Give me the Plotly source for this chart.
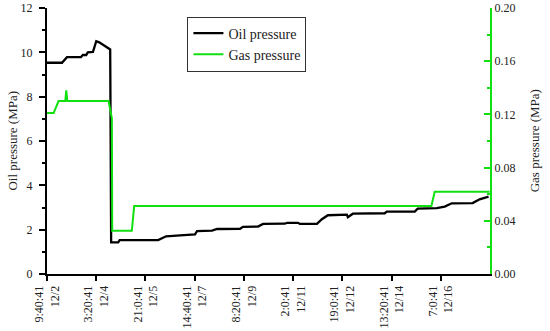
import plotly.graph_objects as go

# x in hours elapsed since 12/2 9:40:41 (tick interval = 41 h 40 min)
oil_hours = [0, 12.7, 16.9, 28.7, 30.3, 33.2, 34.5, 38.9, 41.7, 44.2, 53.5, 53.8, 54.3,
             60.3, 61.5, 94.1, 98.3, 100.8, 112.7, 121.1, 125.3, 127.0, 139.7, 144.0,
             163.4, 165.9, 178.6, 182.9, 201.4, 203.1, 212.4, 214.1, 228.5, 232.7,
             237.8, 253.8, 254.7, 258.9, 285.9, 287.6, 311.3, 313.8, 329.9, 336.7,
             342.6, 360.3, 366.2, 373.8]
oil_mpa = [9.53, 9.53, 9.78, 9.78, 9.88, 9.88, 10.0, 10.02, 10.5, 10.45, 10.13, 1.84, 1.43,
           1.43, 1.53, 1.53, 1.65, 1.70, 1.74, 1.79, 1.79, 1.93, 1.96, 2.03,
           2.04, 2.13, 2.14, 2.26, 2.27, 2.31, 2.31, 2.26, 2.26, 2.47,
           2.65, 2.68, 2.56, 2.72, 2.74, 2.81, 2.82, 2.95, 2.97, 3.04,
           3.19, 3.20, 3.37, 3.49]

gas_hours = [0, 5.6, 9.8, 15.5, 16.3, 17.2, 52.1, 54.9, 55.2, 71.8, 73.8, 325.4, 328.2, 374.7]
gas_mpa = [0.121, 0.121, 0.130, 0.130, 0.138, 0.130, 0.130, 0.117, 0.0325, 0.0325,
           0.0511, 0.0511, 0.0619, 0.0619]

tick_hours = [0, 41.667, 83.333, 125.0, 166.667, 208.333, 250.0, 291.667, 333.333]
tick_times = ["9:40:41", "3:20:41", "21:0:41", "14:40:41", "8:20:41", "2:0:41",
              "19:0:41", "13:20:41", "7:0:41"]
tick_dates = ["12/2", "12/4", "12/5", "12/7", "12/9", "12/11", "12/12", "12/14", "12/16"]

GREEN = "#10e010"
FONT = "Liberation Serif"

fig = go.Figure()
fig.add_trace(go.Scatter(x=oil_hours, y=oil_mpa, mode="lines", name="Oil pressure",
                         line=dict(color="black", width=2.3)))
fig.add_trace(go.Scatter(x=gas_hours, y=gas_mpa, mode="lines", name="Gas pressure",
                         yaxis="y2", line=dict(color=GREEN, width=2)))

fig.update_layout(
    width=550, height=331, autosize=False,
    margin=dict(l=47, r=60, t=8, b=57, autoexpand=False),
    paper_bgcolor="white", plot_bgcolor="white",
    font=dict(family=FONT, size=12, color="#222"),
    showlegend=True,
    legend=dict(x=0.317, y=0.968, xanchor="left", yanchor="top",
                bordercolor="#333", borderwidth=1, bgcolor="white",
                font=dict(family=FONT, size=14, color="#222"),
                tracegroupgap=0, itemwidth=30),
    xaxis=dict(range=[0, 375], tickvals=tick_hours, automargin=False,
               ticktext=[t + "<br>" + d for t, d in zip(tick_times, tick_dates)],
               tickangle=-90, showgrid=False, zeroline=False,
               showline=True, linecolor="black", linewidth=2,
               ticks="outside", ticklen=5, tickwidth=2, tickcolor="black",
               tickfont=dict(family=FONT, size=12, color="#222")),
    yaxis=dict(range=[0, 12], dtick=2, showgrid=False, zeroline=False, automargin=False,
               showline=True, linecolor="black", linewidth=2,
               ticks="outside", ticklen=6, tickwidth=1.5, tickcolor="black",
               ticklabelstandoff=4,
               minor=dict(dtick=1, ticks="outside", ticklen=3, tickcolor="black"),
               tickfont=dict(family=FONT, size=12, color="#222")),
    yaxis2=dict(range=[0, 0.2], dtick=0.04, tickformat=".2f", overlaying="y", side="right",
                showgrid=False, zeroline=False, automargin=False,
                showline=True, linecolor=GREEN, linewidth=2,
                ticks="inside", ticklen=6, tickwidth=1.5, tickcolor=GREEN,
                minor=dict(dtick=0.02, ticks="inside", ticklen=3, tickcolor=GREEN),
                tickfont=dict(family=FONT, size=12, color="#222")),
    annotations=[
        dict(text="Oil pressure (MPa)", xref="paper", yref="paper", x=-0.08, y=0.5,
             textangle=-90, showarrow=False, xanchor="center", yanchor="middle",
             font=dict(family=FONT, size=13, color="#222")),
        dict(text="Gas pressure (MPa)", xref="paper", yref="paper", x=1.1, y=0.5,
             textangle=-90, showarrow=False, xanchor="center", yanchor="middle",
             font=dict(family=FONT, size=13, color="#222")),
    ],
)

fig.write_html("out.html", config={"displayModeBar": False},
               post_script="document.body.style.margin='0';document.body.style.overflow='hidden';")
